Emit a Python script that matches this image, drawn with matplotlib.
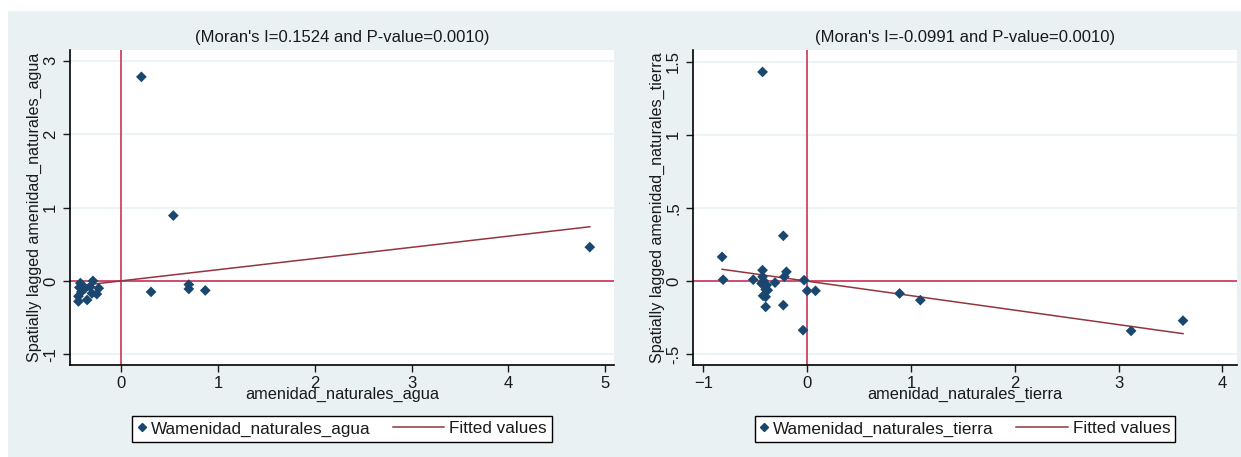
import numpy as np
import matplotlib.pyplot as plt
from matplotlib.patches import Rectangle
from matplotlib.lines import Line2D
from matplotlib.legend_handler import HandlerBase

# left panel: amenidad_naturales_agua (z) vs spatial lag (Wz)
agua_x = [0.21, 0.54, 4.84, 0.31, 0.70, 0.70, 0.87,
          -0.42, -0.44, -0.35, -0.44, -0.41, -0.37, -0.32, -0.29,
          -0.23, -0.25, -0.30, -0.43]
agua_y = [2.78, 0.89, 0.46, -0.15, -0.05, -0.11, -0.13,
          -0.03, -0.28, -0.26, -0.21, -0.15, -0.10, -0.08, 0.00,
          -0.10, -0.18, -0.17, -0.09]
agua_moran = 0.1524
agua_p = 0.0010

# right panel: amenidad_naturales_tierra
tierra_x = [-0.43, -0.82, -0.81, -0.52, -0.43, -0.43, -0.42, -0.44,
            -0.39, -0.40, -0.38, -0.425, -0.40, -0.40, -0.31, -0.23,
            -0.23, -0.22, -0.20, -0.04, -0.03, 0.00, 0.08, 0.89, 1.09,
            3.12, 3.62]
tierra_y = [1.43, 0.166, 0.01, 0.01, 0.075, 0.03, 0.002, -0.016,
            -0.027, -0.057, -0.062, -0.10, -0.107, -0.176, -0.01, 0.31,
            -0.164, 0.03, 0.064, -0.335, 0.007, -0.066, -0.066, -0.084, -0.13,
            -0.34, -0.27]
tierra_moran = -0.0991
tierra_p = 0.0010

agua_xticks = [0, 1, 2, 3, 4, 5]
agua_yticks = [-1, 0, 1, 2, 3]
agua_yticklabels = ['-1', '0', '1', '2', '3']
tierra_xticks = [-1, 0, 1, 2, 3, 4]
tierra_yticks = [-0.5, 0, 0.5, 1, 1.5]
tierra_yticklabels = ['-.5', '0', '.5', '1', '1.5']

plt.rcParams['font.family'] = ['Liberation Sans', 'DejaVu Sans']
plt.rcParams['font.size'] = 12

NAVY = '#1a476f'
REF = '#c8204a'
FIT = '#93353e'
BG = '#e9f1f3'
TXT = '#1a1a1a'


class MarkerHandler(HandlerBase):
    def create_artists(self, legend, orig_handle, xdescent, ydescent, width, height, fontsize, trans):
        m = Line2D([-xdescent + width * 0.5], [height / 2 - ydescent], marker='D', ms=4.2,
                   color=NAVY, ls='none', transform=trans)
        return [m]


class LongLineHandler(HandlerBase):
    def create_artists(self, legend, orig_handle, xdescent, ydescent, width, height, fontsize, trans):
        x1 = -xdescent + width
        ln = Line2D([x1 - 3.0 * fontsize, x1], [height / 2 - ydescent] * 2, color=FIT, lw=1.1,
                    transform=trans)
        return [ln]


fig = plt.figure(figsize=(12.41, 4.57), dpi=100)
fig.patches.append(Rectangle((8 / 1241, 0), 1, 1 - 11 / 457, transform=fig.transFigure,
                             facecolor=BG, edgecolor='none', zorder=-10))


def moran_panel(ax, x, y, moran, p, name, xticks, yticks, yticklabels, xlim, ylim):
    x = np.array(x)
    ax.set_facecolor('white')
    for t in yticks:
        ax.axhline(t, color=BG, lw=1.2, zorder=0)
    ax.axhline(0, color=REF, lw=1.1, zorder=1)
    ax.axvline(0, color=REF, lw=1.1, zorder=1)
    pts = ax.scatter(x, y, marker='D', s=30, color=NAVY, edgecolors='none', zorder=3)
    xs = np.array([x.min(), x.max()])
    fit, = ax.plot(xs, moran * xs, color=FIT, lw=1.1, zorder=2)
    ax.set_xlim(*xlim)
    ax.set_ylim(*ylim)
    ax.set_xticks(xticks)
    ax.set_yticks(yticks)
    ax.set_yticklabels(yticklabels, rotation=90, va='center')
    ax.tick_params(direction='out', length=5, width=1, color=TXT, labelcolor=TXT)
    ax.tick_params(axis='x', pad=3)
    for s in ['top', 'right']:
        ax.spines[s].set_visible(False)
    for s in ['left', 'bottom']:
        ax.spines[s].set_linewidth(1.2)
    ax.set_xlabel(name, labelpad=-3, color=TXT, fontsize=11.8)
    ax.set_ylabel('Spatially lagged ' + name, labelpad=1, color=TXT, fontsize=11.6)
    ax.set_title("(Moran's I=%.4f and P-value=%.4f)" % (moran, p), pad=6, color=TXT,
                 fontsize=12)
    leg = ax.legend([pts, fit], ['W' + name, 'Fitted values'],
                    handler_map={pts: MarkerHandler(), fit: LongLineHandler()},
                    loc='center', bbox_to_anchor=(0.5, -0.203), ncol=2,
                    frameon=True, fancybox=False, edgecolor='black', framealpha=1,
                    handlelength=0.5, handletextpad=0.3, columnspacing=3.8,
                    borderpad=0.3, borderaxespad=0, prop={'size': 12.3})
    leg.get_frame().set_linewidth(1.0)
    for t in leg.get_texts():
        t.set_color(TXT)


ax1 = fig.add_axes([70 / 1241, 1 - 365 / 457, 544 / 1241, 315 / 457])
moran_panel(ax1, agua_x, agua_y, agua_moran, agua_p, 'amenidad_naturales_agua',
            agua_xticks, agua_yticks, agua_yticklabels, (-0.527, 5.09), (-1.146, 3.146))

ax2 = fig.add_axes([693 / 1241, 1 - 365 / 457, 544 / 1241, 315 / 457])
moran_panel(ax2, tierra_x, tierra_y, tierra_moran, tierra_p, 'amenidad_naturales_tierra',
            tierra_xticks, tierra_yticks, tierra_yticklabels, (-1.10, 4.14), (-0.573, 1.58))

fig.savefig('out.png', dpi=100, facecolor='white')
